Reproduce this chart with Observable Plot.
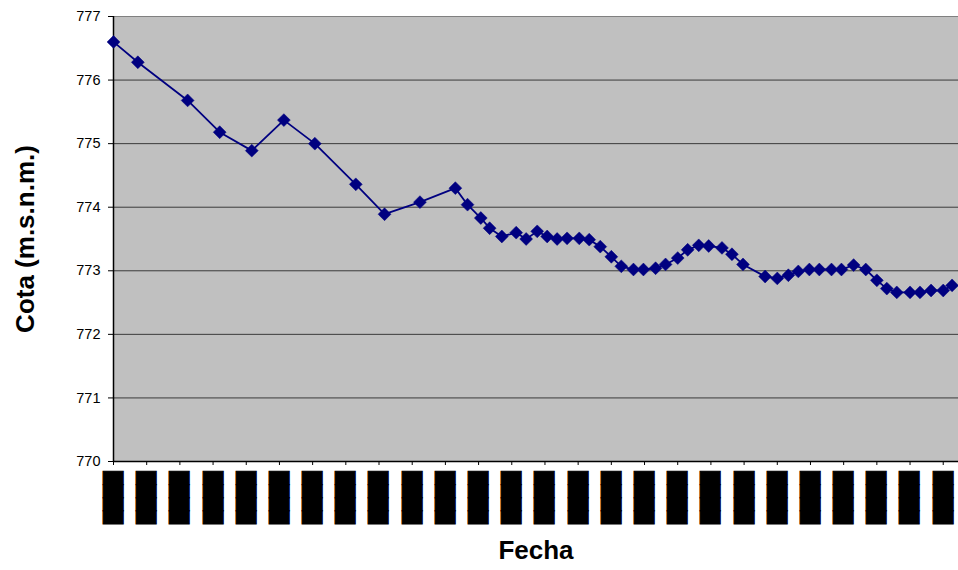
<!DOCTYPE html>
<html>
<head>
<meta charset="utf-8">
<script src="https://cdn.jsdelivr.net/npm/d3@7"></script>
<script src="https://cdn.jsdelivr.net/npm/@observablehq/plot@0.6"></script>
<style>
  html, body { margin: 0; padding: 0; background: #fff; }
  #chart svg { display: block; }
</style>
</head>
<body>
<div id="chart"></div>
<script>
// Días desde la primera medición
const dias = [0,22,67,96,125,154,182,219,245,277,309,320,332,340,351,364,373,383,392,401,410,421,430,440,450,459,470,479,490,499,510,519,529,538,550,559,569,589,600,610,619,629,638,649,658,669,680,690,699,708,720,729,739,750,758];
// Cota (m.s.n.m.)
const cota = [776.60,776.28,775.68,775.18,774.89,775.37,775.00,774.36,773.89,774.08,774.30,774.04,773.83,773.67,773.54,773.60,773.50,773.62,773.54,773.50,773.51,773.51,773.49,773.38,773.22,773.07,773.02,773.02,773.04,773.10,773.20,773.33,773.40,773.39,773.36,773.26,773.10,772.91,772.88,772.93,772.99,773.02,773.02,773.02,773.02,773.09,773.02,772.85,772.72,772.66,772.66,772.66,772.69,772.69,772.77];
// Marcas del eje X (días) y sus etiquetas (ilegibles en el original: bloques negros)
const ticksX = [0,30,60,90,120,150,180,210,240,270,300,330,360,390,420,450,480,510,540,570,600,630,660,690,720,750];
const etiquetasX = ticksX.map(() => "████");
const ticksY = [770,771,772,773,774,775,776,777];
const gridY = [771,772,773,774,775,776];

const datos = dias.map((d, i) => ({dia: d, cota: cota[i]}));

const chart = Plot.plot({
  width: 958,
  height: 570,
  marginLeft: 113,
  marginRight: 0,
  marginTop: 16,
  marginBottom: 109,
  style: {background: "#fff", fontFamily: "'Liberation Sans', Arial, sans-serif"},
  x: {type: "linear", domain: [0, 763.8]},
  y: {domain: [770, 777]},
  marks: [
    Plot.frame({fill: "#C0C0C0", stroke: "#808080"}),
    Plot.ruleY(gridY, {stroke: "#3a3a3a", strokeWidth: 1}),
    Plot.axisY({ticks: ticksY, tickFormat: d3.format("d"), tickSize: 5, tickPadding: 8, fontSize: 14.5, label: null, color: "#000", stroke: "#000"}),
    Plot.axisX({ticks: ticksX, tickFormat: (d, i) => etiquetasX[i], tickRotate: -90, tickSize: 4, tickPadding: 6, fontSize: 17, fontFamily: "DejaVu Sans", label: null, stroke: "#000", fill: "#000"}),
    Plot.ruleX([0], {stroke: "#000", strokeWidth: 1.5}),
    Plot.ruleY([770], {stroke: "#000", strokeWidth: 1.5}),
    Plot.line(datos, {x: "dia", y: "cota", stroke: "#000080", strokeWidth: 1.8}),
    Plot.dot(datos, {x: "dia", y: "cota", symbol: "diamond2", r: 5.8, fill: "#000080", stroke: "#000080", strokeWidth: 0.5}),
    Plot.text(["Cota (m.s.n.m.)"], {frameAnchor: "left", dx: -88, rotate: -90, textAnchor: "middle", lineAnchor: "middle", fontSize: 26, fontWeight: "bold", fill: "#000"}),
    Plot.text(["Fecha"], {frameAnchor: "bottom", dy: 89, textAnchor: "middle", lineAnchor: "middle", fontSize: 26, fontWeight: "bold", fill: "#000"})
  ]
});
// Cerrar las juntas entre glifos de las etiquetas del eje X
chart.querySelectorAll("g[aria-label='x-axis tick label'] text").forEach(t => {
  t.setAttribute("stroke", "#000");
  t.setAttribute("stroke-width", "1");
});
document.getElementById("chart").append(chart);
</script>
</body>
</html>
